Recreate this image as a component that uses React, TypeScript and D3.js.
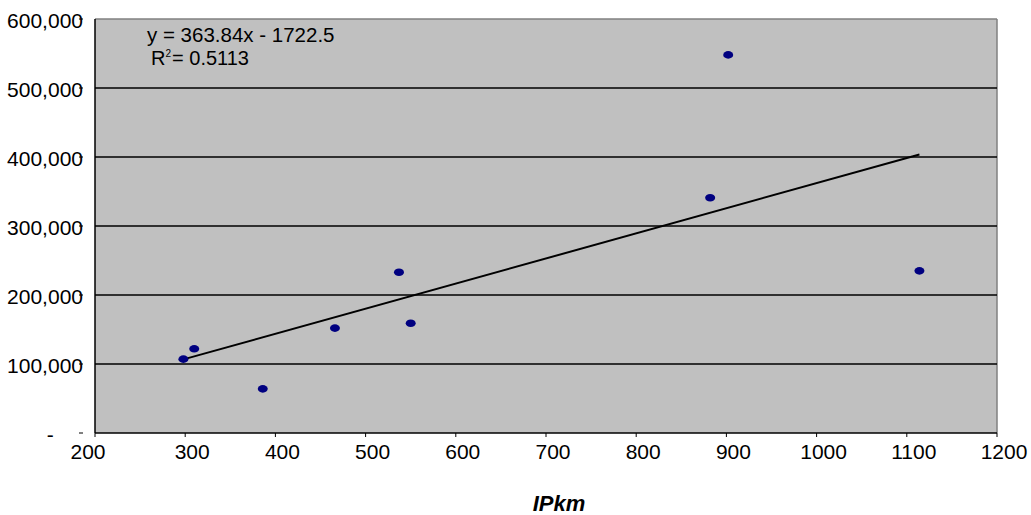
import React from "react";
import * as d3 from "d3";

const xValues = [298, 310, 386, 466, 537, 550, 882, 902, 1114];
const yValues = [107000, 122000, 64000, 152000, 233000, 159000, 341000, 548000, 235000];
const xTicks = [200, 300, 400, 500, 600, 700, 800, 900, 1000, 1100, 1200];
const yTicks = [0, 100000, 200000, 300000, 400000, 500000, 600000];
const yTickLabels = ["-     ", "100,000", "200,000", "300,000", "400,000", "500,000", "600,000"];
const slope = 363.84;
const intercept = -1722.5;
const equationText = "y = 363.84x - 1722.5";
const r2Text = "= 0.5113";
const xTitle = "IPkm";

const W = 1031;
const H = 515;
const M = { left: 95, right: 997, top: 19, bottom: 433 };

export default function App() {
  const x = d3.scaleLinear().domain([200, 1200]).range([M.left, M.right]);
  const y = d3.scaleLinear().domain([0, 600000]).range([M.bottom, M.top]);
  const font = "'Liberation Sans', Arial, sans-serif";
  const xMin = d3.min(xValues) as number;
  const xMax = d3.max(xValues) as number;
  const trend = d3.line<number>()
    .x((v) => x(v))
    .y((v) => y(slope * v + intercept))([xMin, xMax]) as string;

  return (
    <svg width={W} height={H} style={{ position: "absolute", left: 0, top: 0, background: "#fff" }}>
      <rect x={M.left} y={M.top} width={M.right - M.left} height={M.bottom - M.top} fill="#C0C0C0" />
      <line x1={M.left} x2={M.right} y1={M.top} y2={M.top} stroke="#808080" strokeWidth={1.5} />
      <line x1={M.right} x2={M.right} y1={M.top} y2={M.bottom} stroke="#808080" strokeWidth={1.5} />
      {yTicks.slice(1, -1).map((t) => (
        <line key={t} x1={M.left} x2={M.right} y1={y(t)} y2={y(t)} stroke="#000" strokeWidth={1.5} />
      ))}
      <line x1={M.left} x2={M.left} y1={M.top} y2={M.bottom} stroke="#000" strokeWidth={1.5} />
      <line x1={M.left} x2={M.right} y1={M.bottom} y2={M.bottom} stroke="#000" strokeWidth={1.5} />
      {xTicks.map((t, i) => (
        <g key={t}>
          <line x1={x(t)} x2={x(t)} y1={M.bottom} y2={M.bottom + 4} stroke="#000" strokeWidth={1} />
          <text x={x(t) + (i === 0 ? -7 : 7)} y={459} textAnchor="middle" fontFamily={font} fontSize={21} fill="#000">
            {t}
          </text>
        </g>
      ))}
      {yTicks.map((t, i) => (
        <g key={t}>
          <line x1={79} x2={83} y1={y(t)} y2={y(t)} stroke="#000" strokeWidth={1} />
          <text x={83} y={y(t) + 9} textAnchor="end" fontFamily={font} fontSize={21} fill="#000" style={{ whiteSpace: "pre" }}>
            {yTickLabels[i]}
          </text>
        </g>
      ))}
      <path d={trend} fill="none" stroke="#000" strokeWidth={2} />
      {xValues.map((v, i) => (
        <ellipse key={i} cx={x(v)} cy={y(yValues[i])} rx={5} ry={3.8} fill="#000080" />
      ))}
      <text x={147} y={42} fontFamily={font} fontSize={20.5} fill="#000">{equationText}</text>
      <text x={151} y={65} fontFamily={font} fontSize={20} fill="#000">
        R
        <tspan dy={-8} fontSize={10}>2</tspan>
        <tspan dx={1} dy={8}>{r2Text}</tspan>
      </text>
      <text x={559} y={511} textAnchor="middle" fontFamily={font} fontSize={22} fontWeight="bold" fontStyle="italic" fill="#000">
        {xTitle}
      </text>
    </svg>
  );
}
